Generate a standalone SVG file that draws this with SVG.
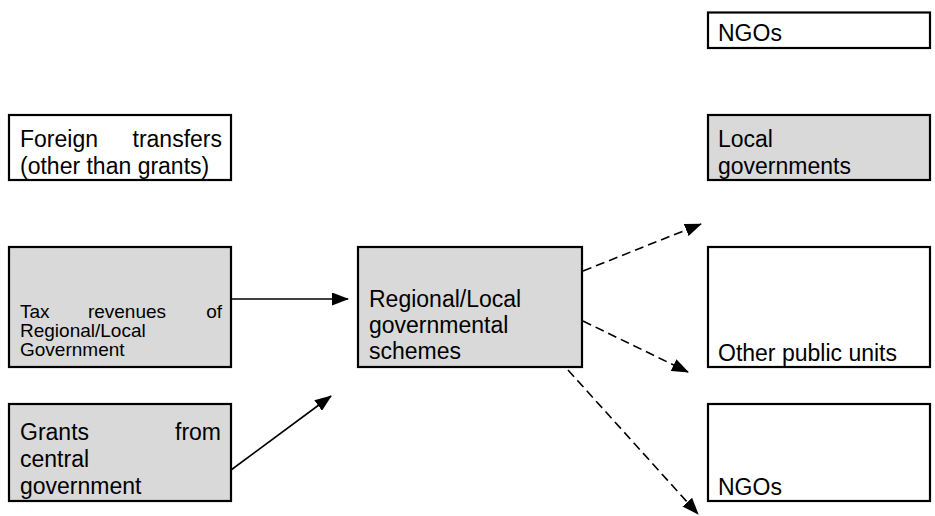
<svg xmlns="http://www.w3.org/2000/svg" width="935" height="516" viewBox="0 0 935 516">
  <style>
    .box { stroke: #000; stroke-width: 2.2; }
    .grey { fill: #d9d9d9; }
    .white { fill: #fff; }
    text { font-family: "Liberation Sans", Arial, sans-serif; font-size: 23px; fill: #000; }
    .small { font-size: 19px; }
    .end { text-anchor: end; }
    .mid { text-anchor: middle; }
    .solid { stroke: #000; stroke-width: 1.6; fill: none; }
    .dash { stroke: #000; stroke-width: 1.6; fill: none; stroke-dasharray: 9 5; }
  </style>
  <defs>
    <marker id="head" viewBox="0 0 17 13" refX="16" refY="6.5" markerWidth="17" markerHeight="13" markerUnits="userSpaceOnUse" orient="auto">
      <path d="M0,0 L17,6.5 L0,13 Z" fill="#000"/>
    </marker>
  </defs>
  <rect width="935" height="516" fill="#fff"/>

  <!-- right column: recipients -->
  <g id="ngos-top">
    <rect class="box white" x="708" y="12.5" width="222" height="35.5"/>
    <text x="718" y="41">NGOs</text>
  </g>
  <g id="local-governments">
    <rect class="box grey" x="708" y="115" width="222" height="65"/>
    <text x="718" y="147">Local</text>
    <text x="718" y="174">governments</text>
  </g>
  <g id="other-public-units">
    <rect class="box white" x="708" y="247" width="222" height="120"/>
    <text x="718" y="361">Other public units</text>
  </g>
  <g id="ngos-bottom">
    <rect class="box white" x="708" y="404" width="222" height="97"/>
    <text x="718" y="495">NGOs</text>
  </g>

  <!-- left column: revenue sources (justified lines) -->
  <g id="foreign-transfers">
    <rect class="box white" x="9" y="115" width="222" height="65"/>
    <text y="147"><tspan x="20">Foreign</tspan><tspan class="end" x="222">transfers</tspan></text>
    <text x="20" y="174">(other than grants)</text>
  </g>
  <g id="tax-revenues">
    <rect class="box grey" x="9" y="247" width="222" height="120"/>
    <text class="small" y="318"><tspan x="20">Tax</tspan><tspan class="mid" x="127">revenues</tspan><tspan class="end" x="222">of</tspan></text>
    <text class="small" x="20" y="337">Regional/Local</text>
    <text class="small" x="20" y="356">Government</text>
  </g>
  <g id="grants">
    <rect class="box grey" x="9" y="404" width="222" height="97"/>
    <text y="440"><tspan x="20">Grants</tspan><tspan class="end" x="221">from</tspan></text>
    <text x="20" y="467">central</text>
    <text x="20" y="494">government</text>
  </g>

  <!-- centre -->
  <g id="regional-schemes">
    <rect class="box grey" x="358" y="247" width="224" height="120"/>
    <text x="369" y="307">Regional/Local</text>
    <text x="369" y="333">governmental</text>
    <text x="369" y="359">schemes</text>
  </g>

  <g id="connectors">
    <line class="solid" x1="231" y1="299" x2="348" y2="299" marker-end="url(#head)"/>
    <line class="solid" x1="231" y1="470" x2="331" y2="396" marker-end="url(#head)"/>
    <line class="dash" x1="583" y1="271" x2="701" y2="224" marker-end="url(#head)"/>
    <line class="dash" x1="583" y1="321" x2="688" y2="372" marker-end="url(#head)"/>
    <line class="dash" x1="568" y1="370" x2="698" y2="514" marker-end="url(#head)"/>
  </g>
</svg>
